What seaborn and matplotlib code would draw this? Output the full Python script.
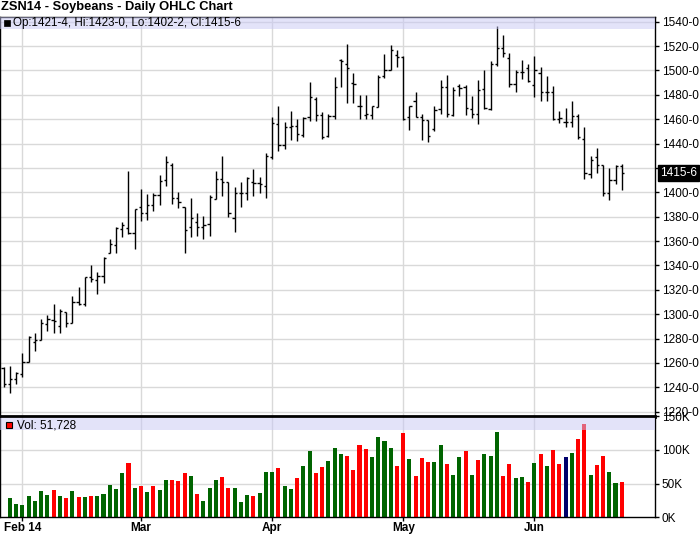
import numpy as np
import pandas as pd
import matplotlib
matplotlib.use("Agg")
import matplotlib.pyplot as plt
import matplotlib.transforms as mtransforms
from matplotlib.patches import Rectangle
import seaborn as sns

# ---------------- data ----------------
title = "ZSN14 - Soybeans - Daily OHLC Chart"
holidays = ["2014-02-17", "2014-04-18", "2014-05-26"]
dates = pd.bdate_range("2014-01-29", "2014-06-20", freq="C", holidays=holidays)

opens = [1255.6, 1242.8, 1246.6, 1250.9, 1261.0, 1277.5, 1279.0, 1292.0, 1295.0, 1290.0,
         1302.0, 1293.0, 1310.3, 1308.0, 1330.8, 1328.0, 1331.0, 1350.0, 1357.0, 1370.0,
         1370.5, 1367.0, 1388.0, 1383.0, 1390.0, 1398.0, 1410.0, 1422.4, 1395.0, 1388.2,
         1371.3, 1375.9, 1371.8, 1373.7, 1394.3, 1410.7, 1408.8, 1378.7, 1399.2, 1399.7,
         1408.8, 1407.9, 1405.2, 1428.8, 1456.0, 1439.0, 1453.4, 1454.0, 1447.4, 1462.0,
         1476.7, 1463.8, 1446.0, 1463.0, 1508.8, 1505.6, 1490.0, 1471.0, 1463.6, 1463.8,
         1470.0, 1495.0, 1500.0, 1513.0, 1511.0, 1462.0, 1475.0, 1461.6, 1459.0, 1452.0,
         1468.5, 1486.0, 1463.5, 1487.0, 1486.0, 1468.5, 1464.0, 1484.8, 1468.5, 1505.0,
         1518.6, 1510.5, 1488.8, 1498.3, 1501.6, 1488.3, 1497.5, 1482.6, 1482.6, 1460.0,
         1457.7, 1457.7, 1463.0, 1444.0, 1415.0, 1428.7, 1422.0, 1399.4, 1409.7, 1421.5]
highs = [1256.9, 1257.5, 1252.8, 1267.9, 1282.0, 1284.3, 1296.0, 1299.0, 1308.4, 1304.0,
         1302.1, 1315.0, 1322.0, 1330.8, 1340.4, 1335.0, 1346.7, 1361.4, 1371.8, 1375.9,
         1417.8, 1386.1, 1402.5, 1398.6, 1399.7, 1414.2, 1429.8, 1423.8, 1400.0, 1388.2,
         1395.1, 1382.8, 1380.6, 1397.8, 1417.5, 1430.1, 1408.8, 1404.1, 1408.8, 1412.3,
         1418.9, 1412.9, 1432.0, 1461.6, 1470.4, 1457.5, 1466.6, 1460.3, 1461.6, 1490.1,
         1478.0, 1465.8, 1464.5, 1494.5, 1509.6, 1521.9, 1497.8, 1479.5, 1479.5, 1471.2,
         1495.9, 1513.7, 1520.5, 1517.0, 1511.5, 1471.2, 1482.2, 1464.4, 1459.5, 1470.4,
         1491.8, 1496.4, 1486.3, 1489.0, 1487.7, 1478.6, 1492.3, 1500.2, 1507.8, 1536.3,
         1528.9, 1514.6, 1500.0, 1508.3, 1505.6, 1511.9, 1502.4, 1495.6, 1487.5, 1466.6,
         1469.3, 1475.3, 1464.4, 1453.6, 1429.8, 1436.6, 1422.4, 1419.7, 1422.4, 1423.0]
lows = [1240.0, 1235.1, 1242.8, 1248.7, 1261.0, 1270.0, 1279.0, 1286.0, 1284.3, 1284.3,
        1289.8, 1292.5, 1307.5, 1306.7, 1326.7, 1316.6, 1325.9, 1350.0, 1350.0, 1363.6,
        1365.8, 1353.2, 1376.8, 1377.3, 1385.0, 1389.6, 1405.2, 1390.4, 1386.9, 1350.5,
        1363.1, 1364.2, 1361.4, 1364.2, 1394.3, 1397.3, 1380.0, 1367.7, 1388.2, 1393.7,
        1397.0, 1399.2, 1395.1, 1427.1, 1433.7, 1435.6, 1442.5, 1441.9, 1445.2, 1458.9,
        1458.9, 1443.6, 1445.0, 1460.0, 1486.3, 1473.0, 1473.2, 1460.3, 1460.3, 1460.3,
        1470.0, 1494.0, 1500.0, 1502.7, 1459.5, 1451.2, 1461.6, 1443.0, 1441.0, 1450.0,
        1464.4, 1461.6, 1463.0, 1478.6, 1463.8, 1461.0, 1456.2, 1468.5, 1467.7, 1503.7,
        1511.0, 1486.1, 1482.1, 1492.9, 1490.2, 1478.0, 1475.3, 1475.3, 1459.6, 1456.9,
        1453.6, 1453.6, 1444.0, 1410.8, 1411.6, 1415.7, 1397.2, 1394.0, 1407.0, 1402.25]
closes = [1242.8, 1246.6, 1251.5, 1261.0, 1281.0, 1278.8, 1292.5, 1295.8, 1294.5, 1302.9,
          1292.5, 1310.3, 1308.4, 1330.3, 1329.0, 1331.3, 1345.8, 1357.6, 1370.5, 1373.0,
          1367.0, 1386.0, 1383.0, 1390.0, 1397.8, 1409.6, 1425.2, 1395.0, 1392.3, 1369.1,
          1378.7, 1371.8, 1373.2, 1396.4, 1410.7, 1408.8, 1382.8, 1399.2, 1399.7, 1411.5,
          1407.4, 1406.8, 1429.8, 1456.7, 1439.0, 1453.4, 1454.0, 1448.0, 1461.1, 1478.0,
          1463.8, 1445.2, 1462.4, 1486.3, 1507.7, 1502.0, 1489.0, 1471.0, 1464.5, 1470.4,
          1494.5, 1500.0, 1517.0, 1511.0, 1460.0, 1471.0, 1461.6, 1459.5, 1446.6, 1467.7,
          1486.3, 1464.0, 1483.6, 1485.8, 1469.3, 1464.4, 1484.0, 1469.3, 1505.6, 1518.6,
          1514.6, 1488.8, 1498.3, 1498.3, 1491.5, 1500.2, 1482.0, 1482.6, 1460.0, 1461.2,
          1457.7, 1463.0, 1445.5, 1416.2, 1426.5, 1422.4, 1399.4, 1409.7, 1421.6, 1415.75]

# volume (thousands) for dates[1:]
volumes = [28.7, 19.8, 18.3, 31.7, 24.3, 39.1, 33.2, 40.6, 31.7, 28.7,
           39.1, 30.2, 30.2, 31.7, 31.7, 34.7, 48.0, 42.1, 65.8, 80.7,
           43.6, 46.5, 37.6, 46.5, 40.6, 55.4, 55.4, 54.0, 65.8, 61.4,
           34.7, 24.3, 43.6, 55.4, 59.9, 43.6, 43.6, 22.8, 33.2, 31.7,
           36.1, 67.3, 67.3, 73.3, 46.5, 42.1, 58.4, 76.2, 98.5, 65.8,
           74.8, 83.7, 103.0, 94.1, 91.1, 70.3, 107.4, 101.5, 89.6, 119.3,
           113.4, 103.0, 76.2, 125.2, 86.6, 61.4, 88.1, 82.2, 82.2, 107.4,
           79.2, 62.9, 89.6, 98.5, 62.9, 85.1, 94.1, 91.1, 126.7, 61.4,
           79.2, 58.4, 59.9, 52.5, 80.7, 94.1, 76.2, 100.0, 79.2, 89.6,
           95.5, 116.3, 138.6, 62.9, 77.7, 91.1, 67.3, 51.0, 51.728]
vol_dirs = list("gggggggrgrgrgrgggggr" "grgrggrrrgrgggrrgggr" "gggrggrggrrgggrrrrgg"
                "ggrrgrrrggrggrgrgggr" "rggrgrgrrngrrgrrggr")

price_ticks = list(range(1220, 1541, 20))
vol_ticks = [0, 50, 100, 150]

# ---------------- helpers ----------------
def quote(v):
    return f"{int(v)}-{int(round((v % 1) * 8))}"

W, H = 700, 536
sns.set_style("white")
plt.rcParams["font.family"] = ["Liberation Sans", "DejaVu Sans"]

fig = plt.figure(figsize=(W / 100, H / 100), dpi=100)

def px_axes(x0, y0, x1, y1):
    return fig.add_axes([x0 / W, 1 - y1 / H, (x1 - x0) / W, (y1 - y0) / H])

axp = px_axes(0, 17, 655, 417)
axv = px_axes(0, 416.3, 655, 517.3)

xi = np.arange(len(dates))
months = pd.Series(dates.month)
month_pos = [int(i) for i in np.where(months.diff().fillna(0).values != 0)[0]]
month_lbl = [dates[p].strftime("%b %y") if k == 0 else dates[p].strftime("%b")
             for k, p in enumerate(month_pos)]

xlim = (-0.577, -0.577 + 655 / 6.244)
grid_c = "#d9d9d9"

# ---------------- price panel ----------------
for y in price_ticks:
    axp.axhline(y, color=grid_c, lw=1, zorder=0)
for p in month_pos:
    axp.axvline(p, color=grid_c, lw=1, zorder=0)
    axv.axvline(p, color=grid_c, lw=1, zorder=0)
for y in [50, 100]:
    axv.axhline(y, color=grid_c, lw=1, zorder=0)

axp.vlines(xi, lows, highs, color="black", lw=1.0, zorder=2)
axp.hlines(opens, xi - 0.36, xi, color="black", lw=1.0, zorder=2)
axp.hlines(closes, xi, xi + 0.36, color="black", lw=1.0, zorder=2)

axp.set_xlim(*xlim)
axp.set_ylim(1215.7, 1543.8)
axp.yaxis.tick_right()
axp.set_yticks(price_ticks)
# the last-price box takes the place of a nearby tick label
axp.set_yticklabels(["" if abs(v - closes[-1]) < 10 else quote(v) for v in price_ticks])
axp.tick_params(axis="y", direction="out", length=3, width=1, pad=2,
                labelsize=8.5, colors="black", right=True, left=False)
axp.set_xticks(month_pos)
axp.tick_params(axis="x", length=0, labelbottom=False)
for s in ["left", "right", "top"]:
    axp.spines[s].set_color("black")
    axp.spines[s].set_linewidth(1)
axp.spines["bottom"].set_linewidth(2)
axp.spines["bottom"].set_color("black")

# band
axp.add_patch(Rectangle((0, 0.97), 1, 0.03, transform=axp.transAxes,
                        facecolor="#c8c8f5", alpha=0.5, lw=0, zorder=3))

# last price box
blend = mtransforms.blended_transform_factory(axp.transAxes, axp.transData)
axp.text(1 + 5 / 655, closes[-1], quote(closes[-1]), transform=blend,
         ha="left", va="center", fontsize=8.5, color="white", zorder=6,
         bbox=dict(boxstyle="square,pad=0.18", facecolor="black", edgecolor="black"),
         clip_on=False)

# ---------------- volume panel ----------------
vdf = pd.DataFrame({"x": xi[1:], "vol": volumes, "dir": vol_dirs})
sns.barplot(data=vdf, x="x", y="vol", hue="dir", native_scale=True, dodge=False,
            palette={"g": "#006400", "r": "#ff0000", "n": "#00006b"},
            width=0.65, saturation=1, errorbar=None, legend=False,
            linewidth=0, ax=axv, zorder=2)
axv.set_xlim(*xlim)
axv.set_ylim(0, 150)
axv.set_xlabel("")
axv.set_ylabel("")
axv.yaxis.tick_right()
axv.set_yticks(vol_ticks)
axv.set_yticklabels([f"{v}K" for v in vol_ticks])
axv.tick_params(axis="y", direction="out", length=3, width=1, pad=2,
                labelsize=8.5, colors="black", right=True, left=False)
axv.set_xticks(month_pos)
axv.set_xticklabels(month_lbl, fontweight="bold", fontsize=8.5)
axv.tick_params(axis="x", direction="out", length=3, width=1, pad=0.5, colors="black",
                bottom=True)
for s in ["left", "right", "bottom"]:
    axv.spines[s].set_color("black")
    axv.spines[s].set_linewidth(1)
axv.spines["top"].set_linewidth(2)
axv.spines["top"].set_color("black")
axv.add_patch(Rectangle((0, 0.865), 1, 0.115, transform=axv.transAxes,
                        facecolor="#c8c8f5", alpha=0.5, lw=0, zorder=3))

# ---------------- texts ----------------
def fig_rect(x, y, w, h, **kw):
    fig.add_artist(Rectangle((x / W, 1 - (y + h) / H), w / W, h / H,
                             transform=fig.transFigure, **kw))

fig.text(1 / W, 1 - 7 / H, title, ha="left", va="center", fontsize=9.3,
         fontweight="bold", color="black")

fig_rect(3.5, 19.5, 6.5, 6.5, facecolor="black", edgecolor="black", lw=0.5, zorder=7)
fig.text(13 / W, 1 - 23 / H,
         f"Op:{quote(opens[-1])}, Hi:{quote(highs[-1])}, Lo:{quote(lows[-1])}, Cl:{quote(closes[-1])}",
         ha="left", va="center", fontsize=8.4, color="black")

fig_rect(5.5, 421.5, 6.5, 6.5, facecolor="#ff0000", edgecolor="black", lw=0.8, zorder=7)
fig.text(17 / W, 1 - 425 / H, f"Vol: {volumes[-1] * 1000:,.0f}",
         ha="left", va="center", fontsize=8.5, color="black")

fig.savefig("out.png", dpi=100)
